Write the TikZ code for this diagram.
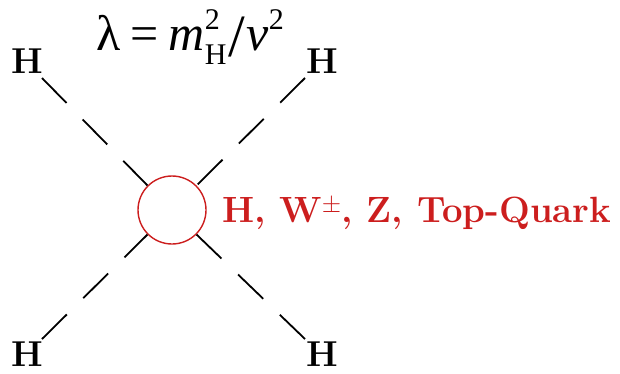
\documentclass[tikz,border=0pt]{standalone}
\usepackage{fontspec}
\newfontfamily\tnr{Liberation Serif}
\definecolor{loopred}{RGB}{204,30,30}
\begin{document}
\begin{tikzpicture}[x=1pt,y=-1pt,
  hlabel/.style={inner sep=0pt,font=\fontsize{36}{36}\selectfont\bfseries},
  prop/.style={line width=1.8pt,dash pattern=on 35pt off 23pt},
  loop/.style={circle,draw=loopred,line width=1.4pt,minimum size=68pt,inner sep=0pt}]
\useasboundingbox (0,0) rectangle (620,373);
\node[loop] (c) at (172,210) {};
\node[hlabel] (h1) at (27,61) {H};
\node[hlabel] (h2) at (322,61) {H};
\node[hlabel] (h3) at (27,354) {H};
\node[hlabel] (h4) at (322,354) {H};
\coordinate (e1) at (42,78);
\coordinate (e2) at (305,78);
\coordinate (e3) at (42,339);
\coordinate (e4) at (305,339);
\draw[prop] (e1) -- (c.135);
\draw[prop] (e2) -- (c.45);
\draw[prop] (e3) -- (c.225);
\draw[prop] (e4) -- (c.315);
\node[anchor=base west,inner sep=0pt,text=loopred,font=\fontsize{36.5}{36.5}\selectfont\bfseries] (lab) at (222,222) {H, W$^{\pm}$, Z, Top-Quark};
\node[anchor=base west,inner sep=0pt] (f) at (96,50)
 {\tnr\fontsize{50}{50}\selectfont λ\kern0.2em=\kern0.2em\textit{m}\rlap{\raisebox{0.42em}{\fontsize{30}{30}\selectfont 2}}\raisebox{-0.28em}{\fontsize{30}{30}\selectfont H}\kern0.05em\raisebox{-0.12em}{\fontsize{60}{60}\selectfont /}\kern0.02em\textit{v}\raisebox{0.42em}{\fontsize{30}{30}\selectfont 2}};
\end{tikzpicture}
\end{document}
